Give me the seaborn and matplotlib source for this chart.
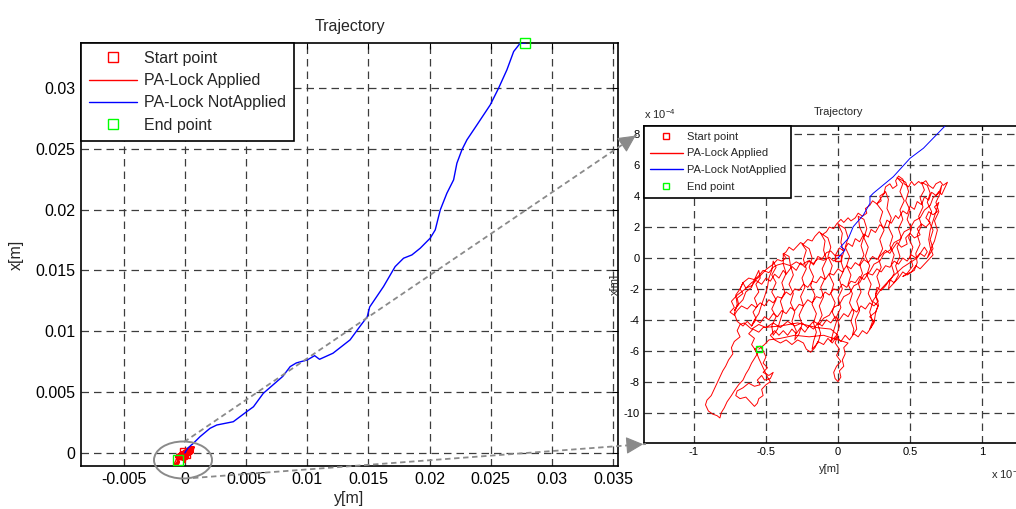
import numpy as np
import pandas as pd
import matplotlib
matplotlib.use("Agg")
import matplotlib.pyplot as plt
import seaborn as sns
from matplotlib.patches import Ellipse, FancyArrowPatch
from matplotlib.lines import Line2D
from matplotlib.ticker import FuncFormatter, FixedLocator

# ---------------------------------------------------------------------------
# Trajectory data: pairs of (y in 1e-3 m, x in 1e-4 m)
# ---------------------------------------------------------------------------
# PA-Lock applied: wandering around the origin, recorded piece by piece
red_leg_start = [
    (0.00, 0.00), (-0.03, -0.2), (-0.06, 0.05), (-0.10, -0.15), (-0.14, -0.05), (-0.17, -0.35),
    (-0.21, -0.2), (-0.25, -0.45), (-0.29, -0.25), (-0.33, -0.5), (-0.38, -0.35), (-0.42, -0.45),
]
red_leg_rise = [
    (-0.45, -0.6), (-0.48, -0.95), (-0.52, -0.8), (-0.55, -1.15), (-0.58, -1.4), (-0.62, -1.3),
    (-0.66, -1.6), (-0.64, -1.95), (-0.60, -1.8), (-0.57, -1.45), (-0.53, -1.7), (-0.50, -1.3),
    (-0.47, -1.5), (-0.44, -1.05), (-0.41, -1.3), (-0.38, -0.8), (-0.36, -1.05), (-0.32, -0.55),
    (-0.29, -0.8), (-0.26, -0.3), (-0.23, -0.6), (-0.20, -0.15), (-0.17, -0.45), (-0.14, 0.1),
    (-0.11, -0.05), (-0.08, 0.35), (-0.05, 0.45), (-0.02, 0.15), (0.01, 0.65), (0.04, 0.45),
    (0.07, 0.95), (0.10, 0.75), (0.12, 1.25), (0.15, 1.05), (0.18, 1.55), (0.21, 1.35),
    (0.23, 1.85), (0.26, 1.65), (0.29, 2.15), (0.32, 1.95), (0.34, 2.45), (0.37, 2.25),
    (0.40, 2.75), (0.42, 2.55), (0.45, 3.05), (0.48, 2.85), (0.50, 3.35), (0.53, 3.15),
    (0.55, 3.65), (0.58, 3.45), (0.60, 3.95), (0.63, 3.75), (0.65, 4.25), (0.68, 4.05),
    (0.70, 4.3), (0.72, 4.1), (0.74, 4.5),
]
red_leg_upper = [
    (0.76, 4.9), (0.73, 4.7), (0.71, 4.95), (0.68, 4.8), (0.66, 4.5), (0.63, 4.7), (0.61, 5.0),
    (0.58, 4.8), (0.56, 4.95), (0.53, 4.7), (0.51, 4.95), (0.49, 4.6), (0.46, 4.8), (0.45, 5.1),
    (0.42, 5.3), (0.40, 5.0), (0.41, 4.7), (0.38, 4.5), (0.36, 4.8), (0.33, 4.6), (0.32, 4.2),
    (0.29, 4.0), (0.30, 3.7), (0.27, 3.5), (0.24, 3.7), (0.22, 3.4), (0.19, 3.2), (0.20, 2.9),
    (0.17, 2.7), (0.14, 2.9), (0.12, 2.6), (0.09, 2.4), (0.07, 2.6), (0.04, 2.3), (0.02, 2.5),
    (-0.01, 2.2), (-0.03, 1.9), (-0.06, 2.0), (-0.08, 1.7), (-0.11, 1.5), (-0.13, 1.7),
    (-0.16, 1.4), (-0.18, 1.1), (-0.21, 1.2), (-0.24, 0.9), (-0.26, 1.0), (-0.29, 0.7),
    (-0.31, 0.5), (-0.34, 0.7), (-0.36, 0.4), (-0.38, 0.25), (-0.36, 0.0), (-0.39, -0.2),
    (-0.42, -0.1),
]
red_leg_left = [
    (-0.45, -0.4), (-0.50, -0.75), (-0.55, -1.25), (-0.60, -1.6), (-0.65, -2.05), (-0.70, -2.4),
    (-0.74, -2.8), (-0.72, -3.2), (-0.75, -3.5), (-0.72, -3.7),
]
red_leg_middle = [
    (-0.70, -3.4), (-0.67, -3.1), (-0.63, -3.3), (-0.60, -3.0), (-0.57, -3.2), (-0.54, -2.9),
    (-0.51, -3.1), (-0.48, -2.7), (-0.45, -2.9), (-0.42, -2.5), (-0.39, -2.6), (-0.36, -2.2),
    (-0.33, -2.4), (-0.30, -2.0), (-0.27, -2.1), (-0.24, -1.7), (-0.21, -1.9), (-0.18, -1.5),
    (-0.15, -1.6), (-0.12, -1.2), (-0.09, -1.4), (-0.06, -1.0), (-0.03, -1.1), (0.00, -0.7),
    (0.03, -0.9), (0.06, -0.5), (0.09, -0.7), (0.12, -0.3), (0.15, -0.5), (0.18, -0.1),
    (0.21, -0.3), (0.24, 0.1), (0.27, -0.1), (0.30, 0.2), (0.33, 0.5), (0.36, 0.3), (0.38, 0.6),
    (0.41, 1.0), (0.44, 0.7), (0.48, 0.9), (0.47, 1.3), (0.50, 1.6), (0.53, 1.3), (0.57, 1.5),
    (0.55, 1.9), (0.58, 2.2), (0.61, 2.0), (0.64, 2.3), (0.61, 2.6), (0.63, 3.0), (0.66, 2.8),
    (0.69, 3.0), (0.67, 3.3), (0.70, 3.6),
]
red_leg_right = [
    (0.68, 3.0), (0.66, 2.4), (0.64, 1.8), (0.63, 1.2), (0.64, 0.7), (0.66, 0.2), (0.63, -0.1),
    (0.60, -0.4),
]
red_leg_lower = [
    (0.57, -0.7), (0.54, -0.5), (0.51, -0.9), (0.48, -1.1), (0.45, -0.9), (0.42, -1.3),
    (0.39, -1.6), (0.36, -1.4), (0.33, -1.8), (0.30, -2.1), (0.27, -1.9), (0.26, -2.4),
    (0.28, -2.8), (0.25, -3.1), (0.22, -2.9), (0.19, -3.3), (0.16, -3.1), (0.13, -3.5),
    (0.10, -3.3), (0.07, -3.8), (0.04, -3.6), (0.01, -4.0), (-0.02, -3.8), (-0.05, -4.2),
    (-0.08, -4.0), (-0.11, -4.4), (-0.14, -4.2), (-0.17, -4.6), (-0.20, -4.4), (-0.23, -4.8),
    (-0.26, -4.5), (-0.29, -4.9), (-0.32, -4.6), (-0.35, -5.0), (-0.38, -4.7), (-0.41, -5.0),
    (-0.44, -4.7), (-0.47, -5.0),
]
red_leg_bottom = [
    (-0.44, -5.3), (-0.40, -5.5), (-0.36, -5.3), (-0.32, -5.6), (-0.28, -5.3), (-0.24, -5.5),
    (-0.22, -5.9), (-0.19, -6.1), (-0.16, -5.8), (-0.14, -5.4), (-0.10, -5.6), (-0.07, -5.2),
    (-0.04, -5.5), (-0.01, -5.1), (0.02, -5.4), (0.05, -5.0), (0.08, -5.3), (0.11, -4.9),
    (0.14, -5.1), (0.17, -4.7), (0.20, -4.9), (0.23, -4.5), (0.25, -4.1), (0.22, -3.8),
    (0.26, -3.5), (0.28, -3.1), (0.24, -2.8), (0.30, -2.0), (0.38, -1.2), (0.45, -0.6),
    (0.55, 0.0), (0.60, 0.7),
]
red_leg_return = [
    (0.62, 0.4), (0.60, 0.1), (0.57, 0.3), (0.54, 0.0), (0.51, 0.2), (0.48, -0.2), (0.45, 0.0),
    (0.42, -0.4), (0.39, -0.2), (0.36, -0.6), (0.33, -0.5), (0.30, -0.9), (0.27, -0.7),
    (0.24, -1.1), (0.21, -1.0), (0.18, -1.4), (0.15, -1.2), (0.12, -1.6), (0.09, -1.5),
    (0.06, -1.9), (0.03, -1.7), (0.00, -2.1), (-0.03, -2.0), (-0.06, -2.4), (-0.09, -2.2),
    (-0.12, -2.6), (-0.15, -2.5), (-0.18, -2.9), (-0.21, -2.7), (-0.24, -3.1), (-0.27, -3.0),
    (-0.30, -3.4), (-0.33, -3.2), (-0.36, -3.6), (-0.39, -3.4), (-0.42, -3.8), (-0.45, -3.6),
    (-0.48, -4.0), (-0.51, -3.8), (-0.54, -4.2), (-0.57, -4.0), (-0.60, -4.4), (-0.63, -4.1),
    (-0.66, -4.4), (-0.70, -4.1),
]
red_leg_cross = [
    (-0.72, -3.6), (-0.70, -3.0), (-0.71, -2.4), (-0.68, -2.0), (-0.66, -1.6),
    (-0.68, -2.0), (-0.66, -2.3), (-0.70, -2.6), (-0.69, -3.0), (-0.72, -3.4),
    (-0.70, -3.1), (-0.66, -2.7), (-0.64, -2.2), (-0.60, -1.9), (-0.58, -1.4), (-0.55, -0.8),
    (-0.54, -1.3), (-0.57, -1.7), (-0.55, -2.2), (-0.58, -2.6), (-0.56, -3.1), (-0.59, -3.5),
    (-0.57, -3.9), (-0.60, -4.4),
    (-0.58, -4.0), (-0.55, -3.6), (-0.53, -3.0), (-0.51, -2.5), (-0.49, -1.9), (-0.48, -1.3),
    (-0.46, -0.8), (-0.45, -0.2),
    (-0.43, -0.6), (-0.46, -1.1), (-0.43, -1.6), (-0.46, -2.2), (-0.43, -2.7), (-0.46, -3.3),
    (-0.43, -3.8), (-0.46, -4.4), (-0.45, -5.0),
    (-0.42, -4.6), (-0.40, -4.0), (-0.38, -3.4), (-0.40, -2.8), (-0.37, -2.2), (-0.39, -1.6),
    (-0.36, -1.0), (-0.38, -0.4), (-0.38, 0.3),
    (-0.34, 0.1), (-0.33, -0.5), (-0.31, -1.1), (-0.34, -1.7), (-0.31, -2.3), (-0.33, -2.9),
    (-0.30, -3.5), (-0.32, -4.1), (-0.29, -4.7), (-0.30, -5.3),
    (-0.27, -4.9), (-0.25, -4.3), (-0.27, -3.7), (-0.24, -3.1), (-0.26, -2.5), (-0.23, -1.9),
    (-0.25, -1.3), (-0.22, -0.7), (-0.24, -0.1), (-0.22, 0.5), (-0.25, 0.9),
    (-0.20, 0.6), (-0.18, 0.0), (-0.20, -0.6), (-0.17, -1.2), (-0.19, -1.8), (-0.16, -2.4),
    (-0.18, -3.0), (-0.15, -3.6), (-0.17, -4.2), (-0.15, -4.8), (-0.17, -5.4), (-0.18, -5.9),
    (-0.14, -5.5), (-0.12, -4.9), (-0.14, -4.3), (-0.11, -3.7), (-0.13, -3.1), (-0.10, -2.5),
    (-0.12, -1.9), (-0.09, -1.3), (-0.11, -0.7), (-0.08, -0.1), (-0.10, 0.5), (-0.09, 1.1),
    (-0.12, 1.6),
    (-0.07, 1.3), (-0.05, 0.7), (-0.07, 0.1), (-0.04, -0.5), (-0.06, -1.1), (-0.03, -1.7),
    (-0.05, -2.3), (-0.02, -2.9), (-0.04, -3.5), (-0.01, -4.1), (-0.03, -4.7), (-0.05, -5.4),
    (-0.01, -5.0), (0.01, -4.4), (-0.01, -3.8), (0.02, -3.2), (0.00, -2.6), (0.03, -2.0),
    (0.01, -1.4), (0.04, -0.8), (0.02, -0.2), (0.04, 0.4), (0.02, 1.0), (0.03, 1.6), (0.00, 2.2),
    (0.05, 1.9), (0.07, 1.3), (0.05, 0.7), (0.08, 0.1), (0.06, -0.5), (0.09, -1.1), (0.07, -1.7),
    (0.10, -2.3), (0.08, -2.9), (0.11, -3.5), (0.09, -4.1), (0.11, -4.6), (0.10, -5.0),
    (0.13, -4.6), (0.12, -4.0), (0.15, -3.4), (0.13, -2.8), (0.16, -2.2), (0.14, -1.6),
    (0.17, -1.0), (0.15, -0.4), (0.18, 0.2), (0.16, 0.8), (0.18, 1.4), (0.15, 2.0), (0.14, 2.7),
    (0.18, 2.5), (0.20, 1.9), (0.18, 1.3), (0.21, 0.7), (0.19, 0.1), (0.22, -0.5), (0.20, -1.1),
    (0.23, -1.7), (0.21, -2.3), (0.24, -2.9), (0.22, -3.5), (0.24, -4.1), (0.22, -4.6),
    (0.25, -4.2), (0.26, -3.6), (0.28, -3.0), (0.26, -2.4), (0.29, -1.8), (0.27, -1.2),
    (0.30, -0.6), (0.28, 0.0), (0.31, 0.6), (0.29, 1.2), (0.32, 1.8), (0.29, 2.4), (0.31, 3.0),
    (0.27, 3.5),
    (0.30, 3.9), (0.33, 4.3), (0.35, 3.8), (0.34, 3.2), (0.37, 2.6), (0.35, 2.0), (0.38, 1.4),
    (0.36, 0.8), (0.39, 0.2), (0.37, -0.4), (0.39, -1.0), (0.36, -1.5), (0.35, -2.0),
    (0.39, -1.6), (0.42, -1.1), (0.40, -0.5), (0.43, 0.1), (0.41, 0.7), (0.44, 1.3), (0.42, 1.9),
    (0.45, 2.5), (0.43, 3.1), (0.46, 3.7), (0.43, 4.3), (0.45, 4.8), (0.41, 5.2),
    (0.47, 4.9), (0.49, 4.3), (0.47, 3.7), (0.50, 3.1), (0.48, 2.5), (0.51, 1.9), (0.49, 1.3),
    (0.52, 0.7), (0.50, 0.1), (0.52, -0.5), (0.48, -1.0), (0.45, -1.2),
    (0.53, -0.8), (0.55, -0.3), (0.54, 0.3), (0.57, 0.9), (0.55, 1.5), (0.58, 2.1), (0.56, 2.7),
    (0.59, 3.3), (0.57, 3.9), (0.60, 4.4), (0.58, 4.9),
    (0.62, 4.7), (0.64, 4.2), (0.62, 3.6), (0.65, 3.0), (0.63, 2.4), (0.66, 1.8), (0.64, 1.2),
    (0.66, 0.6), (0.62, 0.0),
    (0.64, 0.5), (0.67, 1.1), (0.69, 1.8), (0.67, 2.4), (0.70, 3.0), (0.68, 3.6), (0.71, 4.2),
    (0.72, 4.7),
]
red_leg_diag = [
    (0.70, 4.2), (0.66, 3.9), (0.64, 3.4), (0.60, 3.1), (0.57, 2.6), (0.53, 2.4), (0.50, 1.9),
    (0.46, 1.7), (0.43, 1.2), (0.39, 1.0), (0.36, 0.5), (0.32, 0.3), (0.29, -0.2), (0.25, -0.4),
    (0.22, -0.9), (0.18, -1.1), (0.15, -1.6), (0.11, -1.8), (0.08, -2.3), (0.04, -2.5),
    (0.01, -3.0), (-0.03, -3.2), (-0.06, -3.7), (-0.10, -3.9), (-0.13, -4.3), (-0.17, -4.1),
    (-0.21, -4.5), (-0.25, -4.2), (-0.30, -4.4), (-0.35, -4.1), (-0.40, -4.5), (-0.45, -4.2),
    (-0.50, -4.5), (-0.55, -4.3), (-0.60, -4.6), (-0.65, -4.2),
]
red_leg_tail = [
    (-0.68, -4.3), (-0.70, -4.7), (-0.68, -5.1), (-0.72, -5.4), (-0.74, -5.8), (-0.73, -6.2),
    (-0.76, -6.6), (-0.78, -7.0), (-0.80, -7.3), (-0.82, -7.7), (-0.84, -8.1), (-0.86, -8.5),
    (-0.88, -8.9), (-0.91, -9.2), (-0.92, -9.5), (-0.90, -9.9), (-0.87, -10.1), (-0.84, -10.2),
    (-0.82, -10.35), (-0.81, -10.0), (-0.79, -9.7), (-0.77, -9.3), (-0.74, -8.9), (-0.72, -8.6),
    (-0.69, -8.2), (-0.66, -7.9), (-0.64, -7.5), (-0.62, -7.2), (-0.60, -6.8), (-0.58, -6.5),
    (-0.56, -6.2), (-0.58, -5.9), (-0.54, -5.7), (-0.52, -6.0), (-0.50, -6.4), (-0.52, -6.8),
    (-0.49, -7.1), (-0.52, -7.4), (-0.48, -7.6), (-0.45, -7.4), (-0.47, -7.8), (-0.51, -7.9),
    (-0.53, -7.6), (-0.56, -7.9), (-0.54, -8.2), (-0.58, -8.3), (-0.62, -8.1), (-0.66, -8.4),
    (-0.70, -8.6), (-0.71, -8.9), (-0.68, -9.1), (-0.64, -9.0), (-0.61, -9.3), (-0.58, -9.6),
    (-0.56, -9.4), (-0.55, -9.1), (-0.52, -8.9), (-0.53, -8.5), (-0.50, -8.2), (-0.47, -8.0),
    (-0.49, -7.7), (-0.51, -7.3), (-0.53, -6.9), (-0.55, -6.5), (-0.57, -6.0), (-0.60, -5.6),
    (-0.58, -5.2), (-0.62, -4.9), (-0.59, -4.6), (-0.55, -4.8), (-0.52, -4.5),
]
red_leg_end = [
    (-0.40, -4.4), (-0.28, -4.2), (-0.15, -4.5), (-0.05, -4.6), (0.00, -5.0), (-0.02, -5.5),
    (0.01, -5.9), (-0.01, -6.3), (0.02, -6.7), (-0.01, -7.0), (-0.03, -7.4), (-0.02, -7.8),
    (0.00, -8.0), (0.02, -7.7), (0.01, -7.3), (0.04, -7.0), (0.03, -6.6), (0.05, -6.2),
    (0.04, -5.8), (0.07, -5.5), (0.00, -5.3), (-0.10, -5.0), (-0.20, -5.1), (-0.30, -5.0),
    (-0.40, -5.2), (-0.48, -5.3), (-0.51, -5.6), (-0.55, -5.9),
]

# PA-Lock not applied: steady drift away from the origin (metres)
blue_y = [
    0.0, 0.000049, 0.000019, 0.000072, 0.000106, 0.000176, 0.000222, 0.000222, 0.000245,
    0.000384, 0.000500, 0.000593, 0.000743, 0.00123, 0.00205, 0.0026, 0.00395, 0.00505, 0.0056,
    0.0064, 0.0080, 0.0086, 0.0091, 0.0100, 0.0106, 0.0110, 0.0121, 0.0135, 0.0143, 0.0149,
    0.0151, 0.01623, 0.01718, 0.01787, 0.01855, 0.01923, 0.02005, 0.02046, 0.02087, 0.02141,
    0.02196, 0.02223, 0.02264, 0.02305, 0.02387, 0.02496, 0.02564, 0.02632, 0.02687, 0.02741,
    0.02782,
]
blue_x = [
    0.0, 0.000052, 0.000073, 0.000127, 0.000203, 0.000278, 0.000354, 0.000397, 0.000419,
    0.000526, 0.000645, 0.000710, 0.000854, 0.00134, 0.00203, 0.0023, 0.00257, 0.0034, 0.0038,
    0.0049, 0.0063, 0.0071, 0.0074, 0.00765, 0.0080, 0.0077, 0.0082, 0.0093, 0.0104, 0.0112,
    0.0120, 0.01368, 0.01532, 0.01601, 0.01628, 0.01683, 0.01766, 0.01834, 0.01998, 0.02135,
    0.02245, 0.02382, 0.02492, 0.02574, 0.02697, 0.02862, 0.02999, 0.03150, 0.03300, 0.03369,
    0.03370,
]

start_point = (0.0, 0.0)
red_end_point = (-0.55e-3, -5.9e-4)
blue_end_point = (0.02782, 0.0337)

main_xticks = [-0.005, 0.0, 0.005, 0.01, 0.015, 0.02, 0.025, 0.03, 0.035]
main_yticks = [0.0, 0.005, 0.01, 0.015, 0.02, 0.025, 0.03]
zoom_xticks = [-1.0, -0.5, 0.0, 0.5, 1.0]          # x 1e-3
zoom_yticks = [-10, -8, -6, -4, -2, 0, 2, 4, 6, 8]   # x 1e-4

legend_labels = ["Start point", "PA-Lock Applied", "PA-Lock NotApplied", "End point"]

red_pairs = np.array(red_leg_start + red_leg_rise + red_leg_upper + red_leg_left
                     + red_leg_middle + red_leg_right + red_leg_lower + red_leg_bottom
                     + red_leg_return + red_leg_cross + red_leg_diag + red_leg_tail
                     + red_leg_end)
red_df = pd.DataFrame({"y": red_pairs[:, 0] * 1e-3, "x": red_pairs[:, 1] * 1e-4})
blue_df = pd.DataFrame({"y": blue_y, "x": blue_x})

# ---------------------------------------------------------------------------
sns.set_theme(style="white")
plt.rcParams["font.family"] = ["Liberation Sans", "DejaVu Sans"]
plt.rcParams["mathtext.default"] = "regular"

RED, BLUE, GREEN = "#ff0000", "#0000ff", "#00ff00"
GRID = "#3c3c3c"
W, H = 1016, 509

fig = plt.figure(figsize=(W / 100, H / 100), dpi=100)


def px_rect(left, top, right, bottom):
    return [left / W, 1 - bottom / H, (right - left) / W, (bottom - top) / H]


def gfmt(scale=1.0):
    return FuncFormatter(lambda v, _: f"{round(v / scale, 6):g}")


def draw_panel(ax, ms, lw_line, fs, legend_kw):
    ax.plot(*start_point, ls="none", marker="s", ms=ms, mfc="none", mec=RED, mew=1.0,
            clip_on=False, zorder=3)
    sns.lineplot(data=red_df, x="y", y="x", sort=False, estimator=None, color=RED,
                 lw=lw_line, ax=ax, zorder=4)
    sns.lineplot(data=blue_df, x="y", y="x", sort=False, estimator=None, color=BLUE,
                 lw=lw_line, ax=ax, zorder=5)
    for pt in (red_end_point, blue_end_point):
        ax.plot(*pt, ls="none", marker="s", ms=ms, mfc="none", mec=GREEN, mew=1.0,
                clip_on=False, zorder=6)
    ax.grid(True, color=GRID, linestyle=(0, (6, 4)), lw=0.9)
    ax.set_axisbelow(True)
    ax.tick_params(direction="in", top=True, right=True, length=4, width=0.8,
                   labelsize=fs, colors="black", pad=4)
    for s in ax.spines.values():
        s.set_color("black")
        s.set_linewidth(1.2)
    handles = [
        Line2D([], [], ls="none", marker="s", ms=ms, mfc="none", mec=RED, mew=1.0),
        Line2D([], [], color=RED, lw=1.0),
        Line2D([], [], color=BLUE, lw=1.0),
        Line2D([], [], ls="none", marker="s", ms=ms, mfc="none", mec=GREEN, mew=1.0),
    ]
    leg = ax.legend(handles, legend_labels, loc="upper left", fontsize=fs, frameon=True,
                    fancybox=False, framealpha=1, edgecolor="black", borderaxespad=0,
                    **legend_kw)
    leg.get_frame().set_linewidth(1.2)
    leg.set_zorder(10)


# main panel
ax = fig.add_axes(px_rect(81, 43, 618, 466))
draw_panel(ax, ms=7.5, lw_line=1.0, fs=11.5,
           legend_kw=dict(handlelength=3.0, handletextpad=0.45, labelspacing=0.45,
                          borderpad=0.5))
ax.set_xlim(-0.0085, 0.0354)
ax.set_ylim(-0.00107, 0.0337)
ax.xaxis.set_major_locator(FixedLocator(main_xticks))
ax.yaxis.set_major_locator(FixedLocator(main_yticks))
ax.xaxis.set_major_formatter(gfmt())
ax.yaxis.set_major_formatter(gfmt())
ax.set_title("Trajectory", fontsize=11.5, pad=9)
ax.set_xlabel("y[m]", fontsize=11.5)
ax.set_ylabel("x[m]", fontsize=11.5)
ax.xaxis.set_label_coords(0.50, -0.058)
ax.yaxis.set_label_coords(-0.107, 0.5)

# magnified panel around the origin
axz = fig.add_axes(px_rect(644, 126, 1032, 443))
draw_panel(axz, ms=5, lw_line=0.7, fs=8,
           legend_kw=dict(handlelength=3.0, handletextpad=0.35, labelspacing=0.62,
                          borderpad=0.5))
axz.set_xlim(-1.347e-3, 1.347e-3)
axz.set_ylim(-11.97e-4, 8.54e-4)
axz.xaxis.set_major_locator(FixedLocator([v * 1e-3 for v in zoom_xticks]))
axz.yaxis.set_major_locator(FixedLocator([v * 1e-4 for v in zoom_yticks]))
axz.xaxis.set_major_formatter(gfmt(1e-3))
axz.yaxis.set_major_formatter(gfmt(1e-4))
axz.tick_params(length=3, pad=3)
axz.set_title("Trajectory", fontsize=8, pad=8)
axz.set_xlabel("y[m]", fontsize=8)
axz.set_ylabel("x[m]", fontsize=8)
axz.xaxis.set_label_coords(0.479, -0.066)
axz.yaxis.set_label_coords(-0.062, 0.5)
axz.text(0.0, 1.015, "x 10$^{-4}$", transform=axz.transAxes, fontsize=8,
         ha="left", va="bottom")
axz.text(0.895, -0.075, "x 10$^{-3}$", transform=axz.transAxes, fontsize=8,
         ha="left", va="top")


# highlight ellipse and connector arrows
def fpt(px, py):
    return (px / W, 1 - py / H)


ell = Ellipse(fpt(183, 460), 58 / W, 37 / H, transform=fig.transFigure, fill=False,
              edgecolor="#8a8a8a", lw=1.4, zorder=20)
fig.add_artist(ell)

CONN = "#8a8a8a"
for (x0, y0), (x1, y1) in [((184, 442), (638, 134)), ((193, 478), (646, 444))]:
    fig.add_artist(Line2D([x0 / W, x1 / W], [1 - y0 / H, 1 - y1 / H],
                          transform=fig.transFigure, color=CONN, lw=1.3,
                          linestyle=(0, (3, 2)), zorder=20))
    dx, dy = x1 - x0, y1 - y0
    n = np.hypot(dx, dy)
    tail = (x1 - 12 * dx / n, y1 - 12 * dy / n)
    fig.add_artist(FancyArrowPatch(fpt(*tail), fpt(x1, y1), transform=fig.transFigure,
                                   arrowstyle="-|>,head_length=0.9,head_width=0.45",
                                   mutation_scale=12, color=CONN, lw=0.8, zorder=21))

fig.savefig("out.png", dpi=100)
